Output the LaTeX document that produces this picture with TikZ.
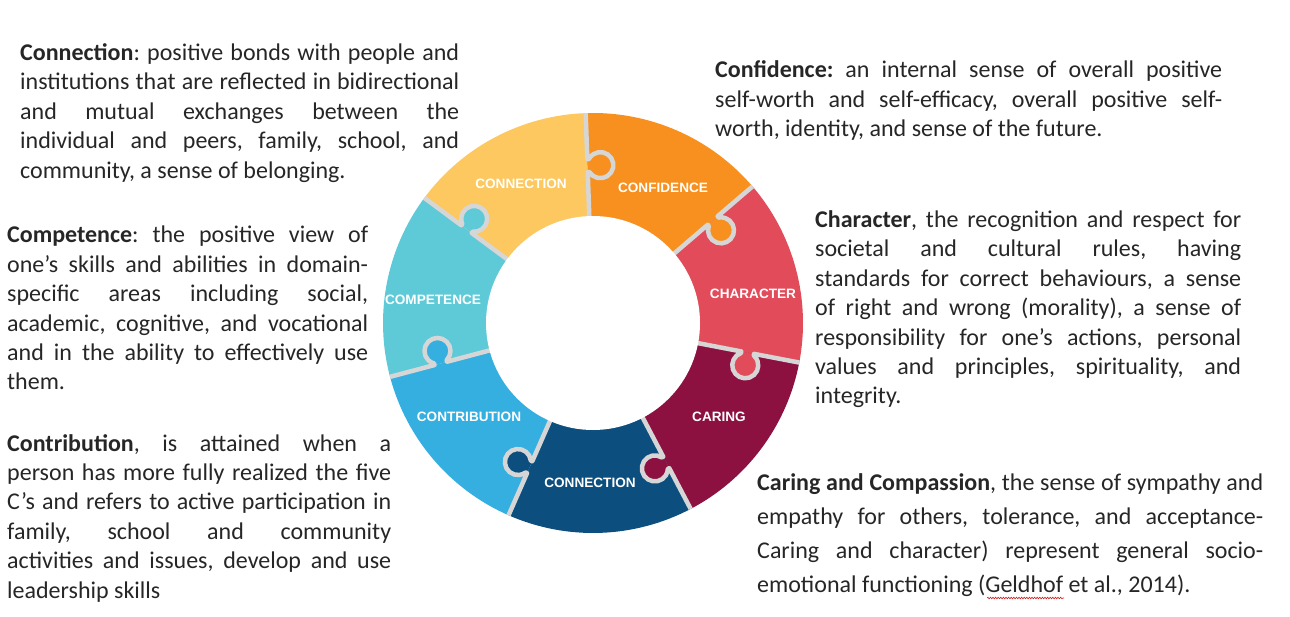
\documentclass[tikz,border=0pt]{standalone}
\usepackage{fontspec}
\setmainfont{Carlito}
\newfontfamily\piecefont{Liberation Sans}
\usepackage{tikz}
\usetikzlibrary{decorations.pathmorphing}
\definecolor{connyellow}{HTML}{FCC85F}
\definecolor{confidorange}{HTML}{F7901E}
\definecolor{charred}{HTML}{E24B59}
\definecolor{caringwine}{HTML}{8C1040}
\definecolor{connblue}{HTML}{0C4F7F}
\definecolor{contribblue}{HTML}{35AEE0}
\definecolor{competteal}{HTML}{5ECAD8}
\definecolor{seam}{HTML}{D6D6D6}
\definecolor{bodytext}{HTML}{262626}
\definecolor{spellred}{HTML}{D02020}
\tolerance=10000
\hbadness=10000
\frenchspacing

\begin{document}
\begin{tikzpicture}[
    x=1pt, y=1pt,
    desc/.style={anchor=base west, inner sep=0pt, align=justify, text=bodytext,
                 font=\fontsize{24}{29.4}\selectfont},
    piecelabel/.style={inner sep=0pt, text=white,
                       font=\piecefont\bfseries\fontsize{13.6}{14}\selectfont},
    seamline/.style={draw=seam, line width=4.5pt, line join=round}
  ]
    \useasboundingbox (0,0) rectangle (1290,-617);

    % puzzle ring
    \begin{scope}[shift={(593,-323)}]
      \foreach \col [count=\i from 0] in {confidorange, charred, caringwine, connblue,
                                          contribblue, competteal, connyellow} {
        \pgfmathsetmacro\aone{92-\i*360/7}
        \pgfmathsetmacro\atwo{\aone-360/7}
        \fill[\col] (\aone:210) arc[start angle=\aone, end angle=\atwo, radius=210]
          -- (\atwo:100) arc[start angle=\atwo, end angle=\aone, radius=100] -- cycle;
      }
      \begin{scope}
        \clip (0,0) circle (210);
        \foreach \kcol [count=\j from 0] in {confidorange, confidorange, charred, caringwine,
                                             connblue, contribblue, competteal} {
          \pgfmathsetmacro\bang{92-\j*360/7}
          \begin{scope}[rotate=\bang]
            \fill[\kcol] (151,0) -- (151,-1.6) arc[start angle=120, end angle=420, radius=13]
              -- (164,0) -- cycle;
            \draw[seamline] (95,0) -- (151,0) -- (151,-1.6)
              arc[start angle=120, end angle=420, radius=13] -- (164,0) -- (215,0);
          \end{scope}
        }
      \end{scope}
      \fill[white] (0,0) circle (107);
    \end{scope}

    % piece labels
    \node[piecelabel] (lbl-connection) at (521,-184) {CONNECTION};
    \node[piecelabel] (lbl-confidence) at (663,-188) {CONFIDENCE};
    \node[piecelabel] (lbl-character) at (753,-294) {CHARACTER};
    \node[piecelabel] (lbl-caring) at (719,-417) {CARING};
    \node[piecelabel] (lbl-connection-low) at (590,-483) {CONNECTION};
    \node[piecelabel] (lbl-contribution) at (469,-417) {CONTRIBUTION};
    \node[piecelabel] (lbl-competence) at (433,-300) {COMPETENCE};

    % descriptions
    \node[desc, text width=439pt] (connection-desc) at (20,-60.5)
      {\textbf{Connection}: positive bonds with people and\linebreak
       institutions that are reflected in bidirectional\linebreak
       and mutual exchanges between the\linebreak
       individual and peers, family, school, and\linebreak
       community, a sense of belonging.};
    \node[desc, text width=507pt] (confidence-desc) at (715,-78)
      {\textbf{Confidence:} an internal sense of overall positive\linebreak
       self-worth and self-efficacy, overall positive self-\linebreak
       worth, identity, and sense of the future.};
    \node[desc, text width=426pt] (character-desc) at (815,-227.5)
      {\textbf{Character}, the recognition and respect for\linebreak
       societal and cultural rules, having\linebreak
       standards for correct behaviours, a sense\linebreak
       of right and wrong (morality), a sense of\linebreak
       responsibility for one’s actions, personal\linebreak
       values and principles, spirituality, and\linebreak
       integrity.};
    \node[desc, text width=361pt] (competence-desc) at (7,-243)
      {\textbf{Competence}: the positive view of\linebreak
       one’s skills and abilities in domain-\linebreak
       specific areas including social,\linebreak
       academic, cognitive, and vocational\linebreak
       and in the ability to effectively use\linebreak
       them.};
    \node[desc, text width=384pt] (contribution-desc) at (7,-451)
      {\textbf{Contribution}, is attained when a\linebreak
       person has more fully realized the five\linebreak
       C’s and refers to active participation in\linebreak
       family, school and community\linebreak
       activities and issues, develop and use\linebreak
       leadership skills};
    \node[desc, text width=506pt, font=\fontsize{24}{34.3}\selectfont] (caring-desc) at (757,-490)
      {\textbf{Caring and Compassion}, the sense of sympathy and\linebreak
       empathy for others, tolerance, and acceptance-\linebreak
       Caring and character) represent general socio-\linebreak
       emotional functioning (Geldhof et al., 2014).};

    % spell-check squiggle under the citation name
    \coordinate (spell-start) at (987,-598);
    \coordinate (spell-end) at (1064,-598);
    \draw[spellred, line width=0.6pt, decorate,
          decoration={snake, amplitude=0.8pt, segment length=2.6pt}] (spell-start) -- (spell-end);
  \end{tikzpicture}
\end{document}
